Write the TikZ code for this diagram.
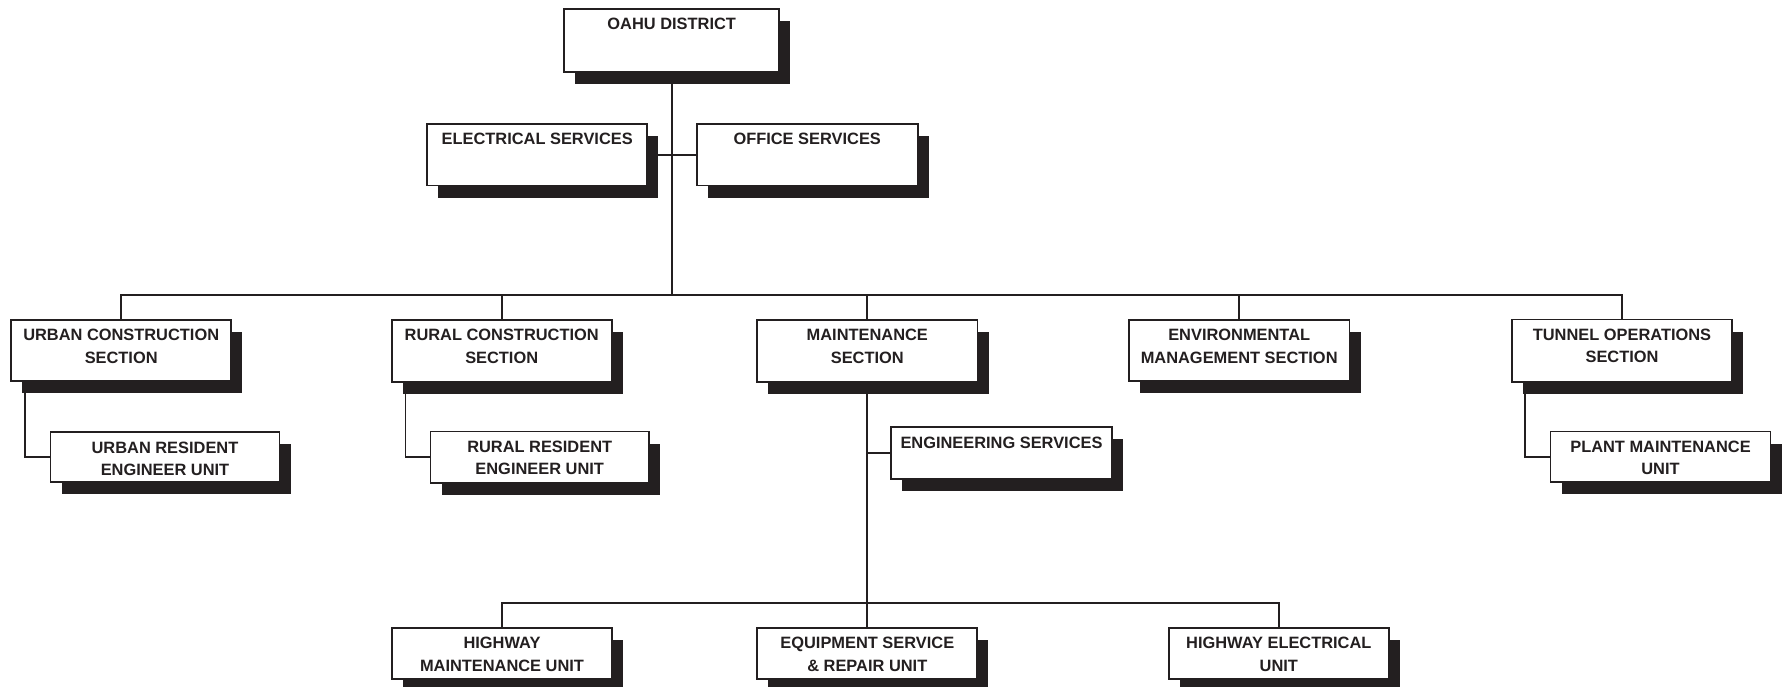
\documentclass[tikz,border=0pt]{standalone}
\usepackage{fontspec}
\setmainfont{Liberation Sans}
\usetikzlibrary{shadows}
\definecolor{ink}{HTML}{231F20}
\newcommand{\bx}[3]{\parbox[c][#2pt][t]{#1pt}{\parskip=0pt\centering\vspace{9.5pt}#3}}
\begin{document}
\begin{tikzpicture}[x=1pt,y=-1pt,
  font=\fontsize{16.4}{22.4}\selectfont\bfseries,
  box/.style={draw=ink, line width=1.7pt, fill=white, inner sep=0pt, text=ink,
    drop shadow={shadow xshift=11pt, shadow yshift=-12pt, fill=ink, opacity=1}},
  conn/.style={draw=ink, line width=1.8pt}]
\useasboundingbox (0,0) rectangle (1785,687);
% top
\node[box] (oahu)   at (671.7,40.5)  {\bx{215}{63}{OAHU DISTRICT}};
\node[box] (elec)   at (537.2,154.7) {\bx{220}{61.7}{ELECTRICAL SERVICES}};
\node[box] (office) at (807.2,154.7) {\bx{221}{61.7}{OFFICE SERVICES}};
% sections
\node[box] (urbanc) at (121.2,350.5)  {\bx{220}{61.5}{URBAN CONSTRUCTION\\SECTION}};
\node[box] (ruralc) at (501.7,350.7)  {\bx{220}{62}{RURAL CONSTRUCTION\\SECTION}};
\node[box] (maint)  at (867.3,350.8)  {\bx{220.5}{62}{MAINTENANCE\\SECTION}};
\node[box] (env)    at (1239.2,350.5) {\bx{220.7}{61.5}{ENVIRONMENTAL\\MANAGEMENT SECTION}};
\node[box] (tunnel) at (1622,350.8)   {\bx{219.6}{62.5}{TUNNEL OPERATIONS\\SECTION}};
% units
\node[box] (urbanr) at (165,457.2)    {\bx{229}{50}{URBAN RESIDENT\\ENGINEER UNIT}};
\node[box] (ruralr) at (539.7,457.2)  {\bx{218.3}{51.3}{RURAL RESIDENT\\ENGINEER UNIT}};
\node[box] (eng)    at (1001.5,453)   {\bx{220.6}{51.6}{ENGINEERING SERVICES}};
\node[box] (plant)  at (1660.5,456.9) {\bx{220}{50.7}{PLANT MAINTENANCE\\UNIT}};
% bottom row
\node[box] (hwym)  at (502,653.3)    {\bx{219.6}{51}{HIGHWAY\\MAINTENANCE UNIT}};
\node[box] (equip) at (867.3,653.3)  {\bx{220}{51}{EQUIPMENT SERVICE\\\&\ REPAIR UNIT}};
\node[box] (hwye)  at (1278.8,653.3) {\bx{220}{51}{HIGHWAY ELECTRICAL\\UNIT}};
% connectors
\coordinate (bus) at (671.7,294.7);
\coordinate (bus2) at (867.3,603.2);
\draw[conn] (oahu.south) -- (bus);
\draw[conn] (elec.east) -- (office.west);
\draw[conn] (urbanc.north) |- (bus) -| (tunnel.north);
\draw[conn] (ruralc.north) -- (ruralc.north |- bus);
\draw[conn] (maint.north) -- (maint.north |- bus);
\draw[conn] (env.north) -- (env.north |- bus);
\draw[conn] ([xshift=15pt]urbanc.south west) |- (urbanr.west);
\draw[conn] ([xshift=14.7pt]ruralc.south west) |- (ruralr.west);
\draw[conn] ([xshift=13.5pt]tunnel.south west) |- (plant.west);
\draw[conn] (maint.south) -- (equip.north);
\draw[conn] (eng.west) -- (eng.west -| maint.south);
\draw[conn] (hwym.north) |- (bus2) -| (hwye.north);
\end{tikzpicture}
\end{document}
